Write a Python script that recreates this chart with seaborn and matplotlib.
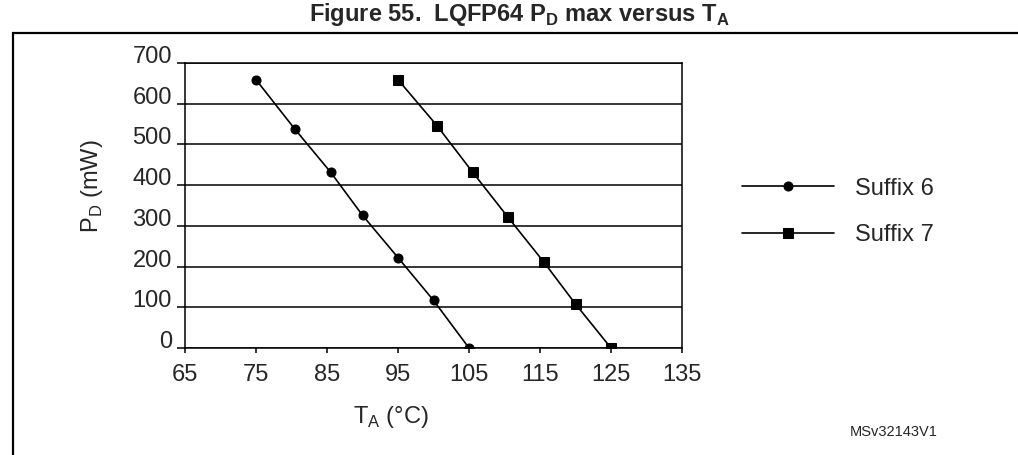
import matplotlib
matplotlib.use("Agg")
import matplotlib.pyplot as plt
from matplotlib.patches import Rectangle
import seaborn as sns
import pandas as pd

# ---- data ----
ta_suffix6 = [75, 80.5, 85.5, 90, 95, 100, 105]
pd_suffix6 = [659, 537, 432, 326, 222, 117, 0]
ta_suffix7 = [95, 100.5, 105.5, 110.5, 115.5, 120, 125]
pd_suffix7 = [659, 546, 432, 321, 212, 108, 0]
series_names = ["Suffix 6", "Suffix 7"]
x_ticks = [65, 75, 85, 95, 105, 115, 125, 135]
y_ticks = [0, 100, 200, 300, 400, 500, 600, 700]

sns.set_theme(style="white")
plt.rcParams["font.family"] = ["Liberation Sans", "DejaVu Sans"]
plt.rcParams["mathtext.fontset"] = "custom"
plt.rcParams["mathtext.rm"] = "Liberation Sans"
plt.rcParams["mathtext.bf"] = "Liberation Sans:bold"

df = pd.concat([
    pd.DataFrame({"TA": ta_suffix6, "PD": pd_suffix6, "series": series_names[0]}),
    pd.DataFrame({"TA": ta_suffix7, "PD": pd_suffix7, "series": series_names[1]}),
])

W, H = 1018, 455
fig = plt.figure(figsize=(W / 100, H / 100), dpi=100)
ax = fig.add_axes([185 / W, 1 - 348 / H, (682 - 185) / W, (348 - 63) / H])

sns.lineplot(data=df, x="TA", y="PD", style="series", markers=["o", "s"],
             dashes=False, color="black", linewidth=1.2, markersize=6.5,
             markeredgecolor="black", ax=ax, sort=False)

ax.set_xlim(65, 135)
ax.set_ylim(0, 700)
ax.set_xticks(x_ticks)
ax.set_yticks(y_ticks)
ax.yaxis.grid(True, color="black", linewidth=1.1)
ax.xaxis.grid(False)
for s in ax.spines.values():
    s.set_color("black")
    s.set_linewidth(1.1)
ax.tick_params(axis="y", direction="out", length=6, width=1.1, pad=3.5,
               labelsize=17, color="black", left=True)
ax.tick_params(axis="x", direction="out", length=3.8, width=1.1, pad=8,
               labelsize=17, color="black", bottom=True)
plt.setp(ax.get_yticklabels(), va="baseline")

ax.set_ylabel("P$_\\mathrm{D}$ (mW)", fontsize=17)
ax.set_xlabel("T$_\\mathrm{A}$ (°C)", fontsize=17)
ax.yaxis.set_label_coords(-0.16, 0.568)
ax.xaxis.set_label_coords(0.414, -0.196)

# legend
leg_handles, leg_labels = ax.get_legend_handles_labels()
if ax.legend_:
    ax.legend_.remove()
fig.legend(leg_handles, leg_labels, loc="center left",
           bbox_to_anchor=(742 / W, 1 - 212 / H), frameon=False,
           fontsize=17, handlelength=3.9, handletextpad=0.9,
           labelspacing=1.05, borderpad=0, borderaxespad=0)

# title and frame
fig.text(0.51, 1 - 15 / H, "Figure 55.  LQFP64 P$_\\mathbf{D}$ max versus T$_\\mathbf{A}$",
         ha="center", va="center", fontsize=17, fontweight="bold")
fig.patches.append(Rectangle((13 / W, -0.1), 1.2, (1 - 33 / H) + 0.1,
                             transform=fig.transFigure, fill=False,
                             edgecolor="black", linewidth=1.6))
fig.text(850 / W, 1 - 432 / H, "MSv32143V1", ha="left", va="center", fontsize=10.5)

fig.savefig("out.png", dpi=100, facecolor="white")
